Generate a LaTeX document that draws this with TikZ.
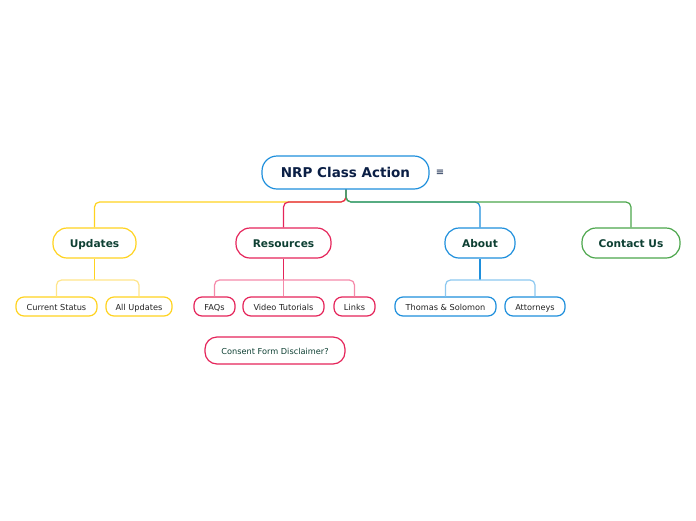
\documentclass[tikz,border=0pt]{standalone}
\usepackage{fontspec}
\setmainfont{DejaVu Sans}
\definecolor{cyel}{HTML}{FFD320}
\definecolor{cyell}{HTML}{FFE58A}
\definecolor{cred}{HTML}{E5245A}
\definecolor{credl}{HTML}{F58AAA}
\definecolor{cblue}{HTML}{1E8FDC}
\definecolor{cbluel}{HTML}{8CC8F0}
\definecolor{cgreen}{HTML}{4CA64C}
\definecolor{tnavy}{HTML}{0B1F45}
\definecolor{tgreen}{HTML}{0E4033}
\definecolor{tgray}{HTML}{222222}
\tikzset{
  rootbox/.style={draw=cblue, line width=1.2pt, rounded corners=15pt, minimum width=167pt, minimum height=33pt, inner sep=0pt, text height=13pt, text depth=2.5pt, font=\fontsize{13.5}{15}\selectfont\bfseries, text=tnavy, fill=white},
  topicbox/.style={draw=#1, line width=1.2pt, rounded corners=14pt, minimum height=30pt, inner sep=0pt, text height=10pt, text depth=2pt, font=\fontsize{10.6}{12}\selectfont\bfseries, text=tgreen, fill=white},
  subbox/.style={draw=#1, line width=1.2pt, rounded corners=8pt, minimum height=19pt, inner sep=0pt, text height=8.6pt, text depth=1.6pt, font=\fontsize{8.2}{9}\selectfont, text=tgray, fill=white},
  conn/.style={line width=1.2pt, rounded corners=5pt},
}
\begin{document}
\begin{tikzpicture}[x=1pt,y=-1pt]
\useasboundingbox (0,0) rectangle (696,520);
\coordinate (rb) at (346,189);
\node[topicbox=cyel, minimum width=83pt] (upd) at (94.5,243) {Updates};
\node[topicbox=cred, minimum width=95pt] (res) at (283.5,243) {Resources};
\node[topicbox=cblue, minimum width=70pt] (abt) at (480,243) {About};
\node[topicbox=cgreen, minimum width=98pt] (con) at (631,243) {Contact Us};

\node[subbox=cyel, minimum width=81pt] (cs) at (56.5,306.5) {Current Status};
\node[subbox=cyel, minimum width=66pt] (au) at (139,306.5) {All Updates};
\node[subbox=cred, minimum width=41pt] (faq) at (214.5,306.5) {FAQs};
\node[subbox=cred, minimum width=81pt] (vt) at (283.5,306.5) {Video Tutorials};
\node[subbox=cred, minimum width=41pt] (lnk) at (354.5,306.5) {Links};
\node[subbox=cblue, minimum width=101pt] (ts) at (445.5,306.5) {Thomas \& Solomon};
\node[subbox=cblue, minimum width=60pt] (att) at (535,306.5) {Attorneys};
\node[subbox=cred, minimum width=140pt, minimum height=27pt, rounded corners=12pt, text=tgreen] (cfd) at (275,350.5) {Consent Form Disclaimer?};

\draw[conn, cyel] (rb) |- (94.5,202) -- (upd.north);
\draw[conn, cred] (rb) |- (283.5,202) -- (res.north);
\draw[conn, cblue] (rb) |- (480,202) -- (abt.north);
\draw[conn, cgreen] (rb) |- (631,202) -- (con.north);

\draw[conn, cyel] (upd.south) -- (94.5,280);
\draw[conn, cyell] (94.5,280) -| (cs.north);
\draw[conn, cyell] (94.5,280) -| (au.north);
\draw[conn, cred] (res.south) -- (283.5,280);
\draw[conn, credl] (283.5,280) -| (faq.north);
\draw[conn, credl] (283.5,280) -- (vt.north);
\draw[conn, credl] (283.5,280) -| (lnk.north);
\draw[conn, cblue] (abt.south) -- (480,280);
\draw[conn, cbluel] (480,280) -| (ts.north);
\draw[conn, cbluel] (480,280) -| (att.north);

\node[rootbox] (root) at (345.5,172.5) {NRP Class Action};
\node[font=\fontsize{10}{12}\selectfont, text=tnavy, inner sep=0pt] (menu) at (440,173) {≡};
\end{tikzpicture}
\end{document}
